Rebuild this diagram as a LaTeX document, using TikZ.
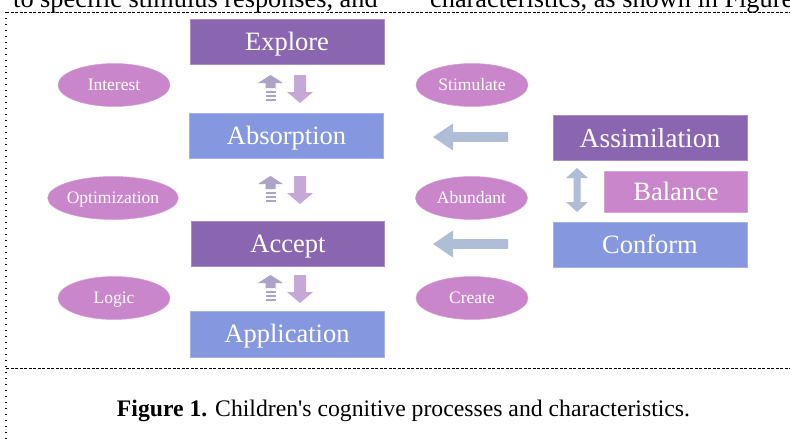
\documentclass[tikz,border=0pt]{standalone}
\usepackage{fontspec}
\setmainfont{Liberation Serif}
\usetikzlibrary{shapes.geometric}
\definecolor{dpurple}{HTML}{8B66B0}
\definecolor{pblue}{HTML}{8597DE}
\definecolor{ppink}{HTML}{C986CB}
\definecolor{upcol}{HTML}{ADA3C7}
\definecolor{downcol}{HTML}{C6A8D8}
\definecolor{leftcol}{HTML}{AFBDD7}
\tikzset{
  box/.style={rectangle, inner sep=0pt, text=white,
    font=\fontsize{26.5}{30}\selectfont, text height=17.5pt, text depth=0pt},
  pbox/.style={box, fill=dpurple, draw=dpurple!75!white, line width=0.6pt},
  bbox/.style={box, fill=pblue, draw=pblue!75!white, line width=0.6pt},
  kbox/.style={box, fill=ppink, draw=ppink!75!white, line width=0.6pt},
  oval/.style={ellipse, fill=ppink, draw=ppink!80!white, line width=0.5pt,
    minimum width=112pt, minimum height=43pt, inner sep=0pt, text=white,
    font=\fontsize{17.5}{20}\selectfont, text height=11.5pt, text depth=0pt},
  pagetext/.style={anchor=base west, inner sep=0pt,
    font=\fontsize{26.3}{30}\selectfont},
  upstripe/.pic={
    \fill[upcol] (-12.5,8) -- (0,0) -- (12.5,8) -- (5,8) -- (5,13) -- (-5,13) -- (-5,8) -- cycle;
    \fill[upcol] (-5,15.5) rectangle (5,17.5);
    \fill[upcol] (-5,19.5) rectangle (5,21.5);
    \fill[upcol] (-5,24) rectangle (5,26);
  },
  downarr/.pic={
    \fill[downcol] (-6,0) -- (6,0) -- (6,17) -- (13,17) -- (0,28) -- (-13,17) -- (-6,17) -- cycle;
  },
  leftarr/.pic={
    \fill[leftcol] (0,0) -- (20,-13.5) -- (20,-4.8) -- (75,-4.8) -- (75,4.8) -- (20,4.8) -- (20,13.5) -- cycle;
  },
  vdouble/.pic={
    \fill[leftcol] (0,-22) -- (11,-12) -- (3.5,-12) -- (3.5,12) -- (11,12) -- (0,22) -- (-11,12) -- (-3.5,12) -- (-3.5,-12) -- (-11,-12) -- cycle;
  }
}
\begin{document}
\begin{tikzpicture}[x=1pt, y=-1pt]
\useasboundingbox (0,0) rectangle (790,439);
\clip (0,0) rectangle (790,439);
\fill[white] (0,0) rectangle (790,439);

% page text cut at the top
\node[pagetext] (pt1) at (13,8) {to specific stimulus responses, and};
\node[pagetext] (pt2) at (430,8) {characteristics, as shown in Figure};

% frame lines
\draw[line width=0.7pt, dash pattern=on 3pt off 1.5pt] (6,12) -- (790,12);
\draw[line width=0.7pt, dash pattern=on 3pt off 1.5pt] (6,368) -- (790,368);
\draw[line width=1.1pt, dash pattern=on 1pt off 5pt] (6,12) -- (6,439);

% left column boxes
\node[pbox, minimum width=194pt, minimum height=45pt] (explore) at (287,42) {Explore};
\node[bbox, minimum width=194pt, minimum height=45pt] (absorption) at (286.5,136) {Absorption};
\node[pbox, minimum width=193pt, minimum height=45pt] (accept) at (288,244) {Accept};
\node[bbox, minimum width=194pt, minimum height=46pt] (application) at (287,334) {Application};

% right column boxes
\node[pbox, minimum width=194pt, minimum height=45pt, font=\fontsize{27.5}{30}\selectfont, text height=18.2pt] (assimilation) at (650,138) {Assimilation};
\node[kbox, minimum width=143pt, minimum height=41pt] (balance) at (676,191.5) {Balance};
\node[bbox, minimum width=194pt, minimum height=45pt] (conform) at (650,244.5) {Conform};

% ellipses
\node[oval] (interest) at (114,85) {Interest};
\node[oval] (stimulate) at (472,85) {Stimulate};
\node[oval] (optimization) at (113,198) {Optimization};
\node[oval] (abundant) at (471.5,198) {Abundant};
\node[oval] (logic) at (114,298) {Logic};
\node[oval] (create) at (472,298) {Create};

% up / down arrows between left boxes
\pic at (270.5,75) {upstripe};
\pic at (300,75) {downarr};
\pic at (270.5,176) {upstripe};
\pic at (300,176) {downarr};
\pic at (270.5,275) {upstripe};
\pic at (300,275) {downarr};

% left arrows
\pic at (433,137) {leftarr};
\pic at (433,244) {leftarr};

% double arrow
\pic at (577,190) {vdouble};

% caption
\node[anchor=base, inner sep=0pt, font=\fontsize{23.7}{27}\selectfont] (caption) at (403.5,416)
  {\textbf{Figure 1.} Children\textquotesingle s cognitive processes and characteristics.};
\end{tikzpicture}
\end{document}
